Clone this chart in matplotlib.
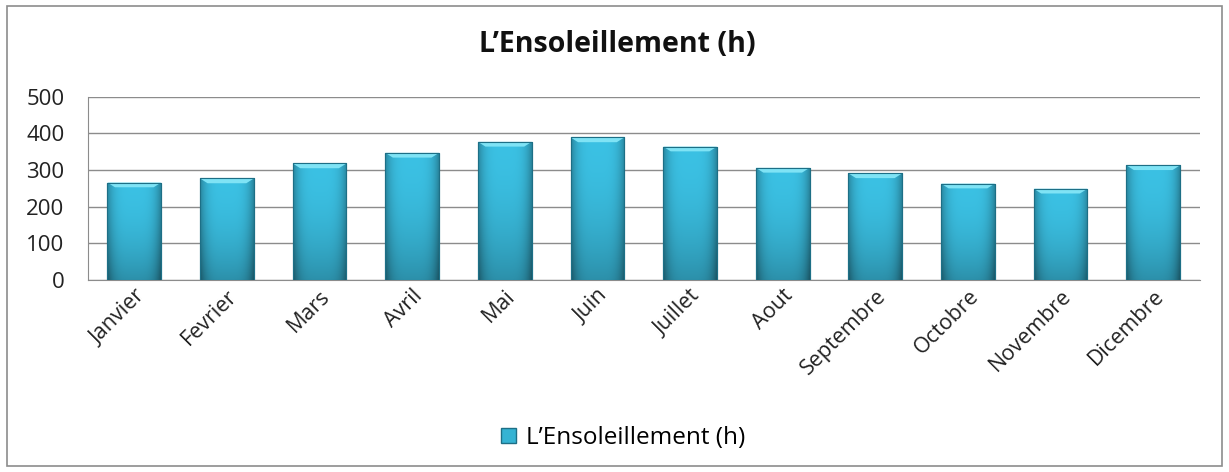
import numpy as np
import matplotlib
matplotlib.use("Agg")
import matplotlib.pyplot as plt
from matplotlib.patches import Rectangle, Polygon

plt.rcParams['font.family'] = ['Open Sans', 'DejaVu Sans']

# data
mois = ['Janvier', 'Fevrier', 'Mars', 'Avril', 'Mai', 'Juin', 'Juillet',
        'Aout', 'Septembre', 'Octobre', 'Novembre', 'Dicembre']
heures = [266, 277, 318, 347, 377, 389, 364, 306, 291, 263, 249, 313]
serie = 'L\u2019Ensoleillement (h)'

fig = plt.figure(figsize=(12.29, 4.72), dpi=100)
ax = fig.add_axes([0.0716, 0.4068, 0.9044, 0.3882])

x = np.arange(len(mois))
bars = ax.bar(x, heures, width=0.58, color='#35b3d3', edgecolor='#1d6f86',
              linewidth=0.8, label=serie, zorder=3)

# gradient shading on each bar (light centre, darker sides, darker bottom)
cols = np.linspace(-1, 1, 64)
rows = np.linspace(0, 1, 64)
cx, ry = np.meshgrid(cols, rows)
shade = 0.7 + 0.3 * (1 - np.abs(cx) ** 4) - 0.25 * (1 - ry) ** 2
base = np.array([0.22, 0.72, 0.85])
img = np.clip(shade[..., None] * base[None, None, :] * 1.05, 0, 1)
for b in bars:
    x0, y0 = b.get_x(), b.get_y()
    w, h = b.get_width(), b.get_height()
    im = ax.imshow(img, extent=[x0, x0 + w, y0, y0 + h], origin='lower',
                   aspect='auto', zorder=3.5)
    im.set_clip_path(b)
    # light bevel at the top
    top = y0 + h
    ax.add_patch(Polygon([(x0, top), (x0 + w, top),
                          (x0 + w * 0.86, top - 13), (x0 + w * 0.14, top - 13)],
                         closed=True, facecolor='#7fe3f5', edgecolor='none',
                         zorder=4))
    ax.add_patch(Rectangle((x0, y0), w, h, fill=False, edgecolor='#1d6f86',
                           linewidth=0.8, zorder=4.5))

ax.set_xlim(-0.5, len(mois) - 0.5)
ax.set_ylim(0, 500)
ax.set_yticks(range(0, 501, 100))
ax.yaxis.grid(True, color='#8c8c8c', linewidth=1, zorder=0)
ax.set_axisbelow(True)
for s in ['top', 'right']:
    ax.spines[s].set_visible(False)
ax.spines['left'].set_color('#8c8c8c')
ax.spines['bottom'].set_color('#8c8c8c')
ax.tick_params(axis='y', length=0, labelsize=16, colors='#222222', pad=17)
ax.tick_params(axis='x', length=0, labelsize=15.5, colors='#222222', pad=4)
ax.set_xticks(x)
ax.set_xticklabels(mois, rotation=45, ha='right', rotation_mode='anchor')
for lab in ax.get_xticklabels():
    lab.set_x(lab.get_position()[0])

fig.text(0.502, 0.905, serie, ha='center', va='center', fontsize=20.5,
         fontweight='bold', color='#111111')

fig.legend(handles=[Rectangle((0, 0), 1, 1, facecolor='#35b3d3',
                              edgecolor='#1d6f86')],
           labels=[serie], loc='center', bbox_to_anchor=(0.507, 0.072),
           frameon=False, fontsize=17.5, handlelength=0.6, handleheight=0.6,
           handletextpad=0.4)

# outer frame
fig.patches.append(Rectangle((0.006, 0.012), 0.988, 0.976,
                             transform=fig.transFigure, fill=False,
                             edgecolor='#8c8c8c', linewidth=1.2))

fig.savefig('out.png', dpi=100)
